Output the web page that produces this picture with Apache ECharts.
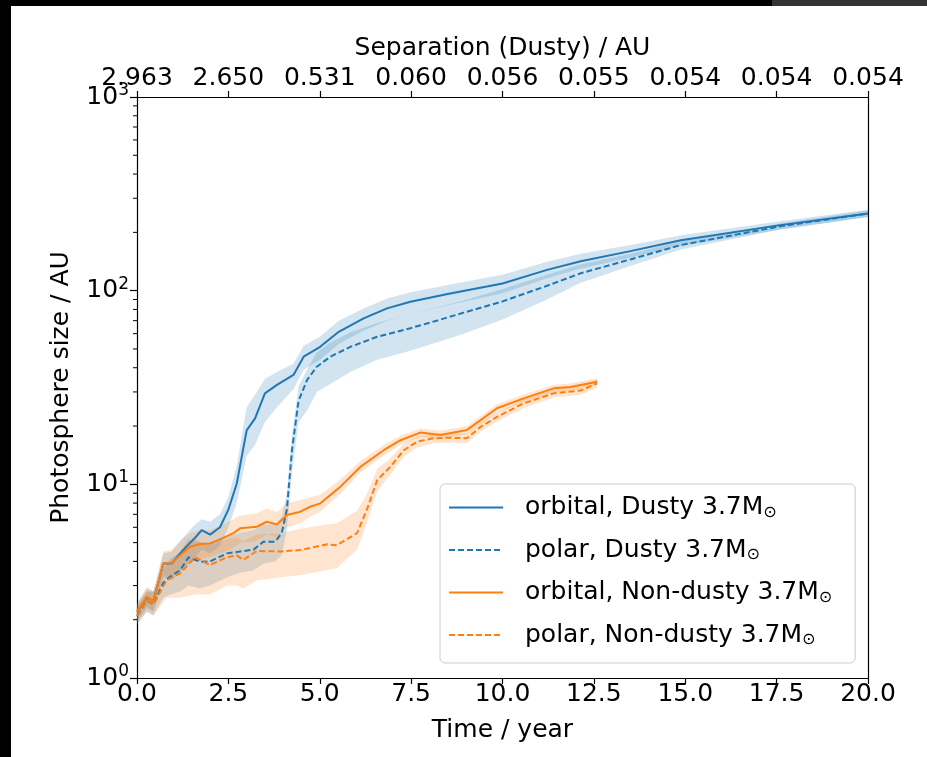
<!DOCTYPE html>
<html><head><meta charset="utf-8">
<script src="https://cdn.jsdelivr.net/npm/echarts@6/dist/echarts.min.js"></script>
<style>html,body{margin:0;padding:0;background:#fff}#c{width:927px;height:757px}</style>
</head><body><div id="c"></div>
<script>
// ---- data ----
const sepLabels = ['2.963','2.650','0.531','0.060','0.056','0.055','0.054','0.054','0.054'];
const minorTickValues = [2,3,4,5,6,7,8,9,20,30,40,50,60,70,80,90,200,300,400,500,600,700,800,900];
const seriesNames = ['orbital, Dusty 3.7M','polar, Dusty 3.7M','orbital, Non-dusty 3.7M','polar, Non-dusty 3.7M'];

const tOrbDusty = [0,0.27,0.45,0.72,0.95,1.18,1.41,1.59,1.77,2.0,2.27,2.5,2.73,3.0,3.23,3.5,3.83,4.28,4.56,5.01,5.52,6.2,6.84,7.48,8.5,10,11.22,12.14,13.5,14.88,17.6,20];
const vOrbDusty = [2.2,2.6,2.5,3.9,3.9,4.4,4.9,5.3,5.8,5.5,6.0,7.4,10.1,19,21.9,29.5,32.6,36.7,45.6,51.3,61.3,71.9,81,87.7,96,109,128,142,160,182,218,250];
const loOrbDusty = [1.95,2.3,2.2,3.3,3.2,3.5,3.9,4.2,4.6,4.4,4.8,6.0,8.0,14,16,21,25,31,39,44,53,62,70,76,84,97,116,130,148,170,207,240];
const hiOrbDusty = [2.45,2.9,2.8,4.4,4.5,5.1,5.7,6.2,6.6,6.4,7.0,8.6,12.5,25,29,35,38,42,52,58,70,81,91,98,107,121,141,155,172,193,228,262];

const tPolDusty = [0,0.27,0.45,0.72,0.9,1.18,1.41,1.73,2.0,2.46,2.82,3.19,3.46,3.78,3.96,4.1,4.24,4.42,4.65,4.92,5.29,5.84,6.57,7.48,8.2,8.94,10,11.22,12.14,13.5,14.88,17.6,20];
const vPolDusty = [2.1,2.5,2.4,3.1,3.33,3.6,4.2,3.98,4.0,4.4,4.5,4.6,5.06,5.06,5.6,7.4,15,27,34.5,40.5,45.6,51.3,57.8,64,70,77,88,106,123,145,172,215,250];
const loPolDusty = [1.9,2.2,2.1,2.6,2.7,2.8,3.0,2.9,3.0,3.3,3.5,3.6,3.9,4.0,4.3,5.8,11.5,21,24,30,33,38,44,49,54,60,71,90,110,134,163,207,240];
const hiPolDusty = [2.35,2.8,2.8,3.7,4.1,4.5,5.2,5.0,5.0,5.4,5.6,5.8,6.2,6.2,6.8,9.0,18,32,39,48,54,61,68,76,82,89,102,121,137,155,180,222,259];

const tOrbNon = [0,0.27,0.45,0.72,0.95,1.18,1.45,1.73,2.0,2.27,2.64,2.82,3.28,3.55,3.83,4.1,4.47,4.74,5.01,5.56,6.11,6.75,7.21,7.75,8.3,9.03,9.85,10.58,11.4,11.86,12.59];
const vOrbNon = [2.2,2.63,2.48,3.91,3.91,4.3,4.76,4.92,4.95,5.2,5.6,5.93,6.04,6.41,6.2,6.95,7.22,7.66,7.97,9.7,12.3,15,16.9,18.5,18,19.1,24.7,27.8,31.3,31.8,33.9];
const loOrbNon = [2.0,2.35,2.2,3.4,3.3,3.6,4.0,4.1,4.2,4.4,4.7,5.0,5.1,5.5,5.3,6.0,6.3,6.8,7.2,8.9,11.5,14.1,16.0,17.6,17.1,18.2,23.5,26.5,29.9,30.4,32.5];
const hiOrbNon = [2.4,2.95,2.8,4.5,4.6,5.1,5.6,5.8,5.8,6.1,6.6,6.9,7.1,7.5,7.2,8.0,8.3,8.6,8.8,10.6,13.2,16,17.8,19.4,18.9,20.0,25.9,29.1,32.7,33.2,35.3];

const tPolNon = [0,0.27,0.45,0.81,1.18,1.59,2.0,2.46,2.73,2.91,3.28,3.92,4.47,5.2,5.47,6.02,6.29,6.57,6.93,7.3,7.66,8.12,8.48,9.03,9.4,9.85,10.58,11.4,12.14,12.59];
const vPolNon = [2.1,2.5,2.4,3.2,3.47,4.2,3.83,4.2,4.3,4.07,4.53,4.5,4.58,4.9,4.85,5.6,7.4,10.5,12.3,15,16.6,17.3,17.4,17.3,19.8,22.3,26.2,29.5,30.5,33.2];
const loPolNon = [1.9,2.2,2.1,2.6,2.6,2.7,2.7,3.0,3.0,2.9,3.2,3.3,3.4,3.6,3.7,4.6,6.3,9.2,11.2,13.9,15.5,16.3,16.4,16.3,18.7,21.1,24.8,28.0,29.0,31.6];
const hiPolNon = [2.35,2.8,2.75,3.9,4.4,5.2,4.8,5.2,5.3,5.1,5.5,5.6,5.9,6.2,6.3,7.3,8.9,12.0,13.6,16.2,17.7,18.3,18.4,18.3,20.9,23.5,27.6,31.0,32.0,34.8];

// ---- chart ----
const BLUE = '#1f77b4', ORANGE = '#ff7f0e';
const FONT = 'DejaVu Sans';
const zip2 = (t, v) => t.map((x, i) => [x, v[i]]);
const zip3 = (t, a, b) => t.map((x, i) => [x, a[i], b[i]]);

function bandSeries(t, lo, hi, color) {
  return {
    type: 'custom', xAxisIndex: 0, yAxisIndex: 0, z: 1, silent: true,
    data: zip3(t, lo, hi),
    encode: {x: 0, y: [1, 2]},
    renderItem: function (params, api) {
      if (params.dataIndex !== 0) return null;
      const upper = t.map((x, i) => api.coord([x, hi[i]]));
      const lower = t.map((x, i) => api.coord([x, lo[i]])).reverse();
      return {type: 'polygon', shape: {points: upper.concat(lower)},
        style: {fill: color, opacity: 0.2, stroke: null}};
    }
  };
}
function lineSeries(name, t, v, color, dashed) {
  return {
    name: name, type: 'line', xAxisIndex: 0, yAxisIndex: 0, z: 3,
    data: zip2(t, v), symbol: 'none', showSymbol: false, smooth: false,
    lineStyle: {color: color, width: 2, type: dashed ? [6, 3] : 'solid'},
    itemStyle: {color: color}
  };
}

const axisLineStyle = {color: '#000', width: 1.2};
const option = {
  animation: false,
  backgroundColor: '#fff',
  grid: {left: 137, right: 59, top: 97, bottom: 79, containLabel: false},
  xAxis: [
    {type: 'value', position: 'bottom', min: 0, max: 20, interval: 2.5,
     axisLine: {show: true, lineStyle: axisLineStyle, onZero: false},
     axisTick: {show: true, inside: false, length: 6, lineStyle: axisLineStyle},
     axisLabel: {fontFamily: FONT, fontSize: 25, color: '#000', margin: 4,
                 formatter: v => v.toFixed(1)},
     splitLine: {show: false},
     name: 'Time / year', nameLocation: 'middle', nameGap: 40,
     nameTextStyle: {fontFamily: FONT, fontSize: 25, color: '#000'}},
    {type: 'value', position: 'top', min: 0, max: 20, interval: 2.5,
     axisLine: {show: true, lineStyle: axisLineStyle, onZero: false},
     axisTick: {show: true, inside: false, length: 6, lineStyle: axisLineStyle},
     axisLabel: {fontFamily: FONT, fontSize: 25, color: '#000', margin: 6,
                 formatter: v => sepLabels[Math.round(v / 2.5)]},
     splitLine: {show: false},
     name: 'Separation (Dusty) / AU', nameLocation: 'middle', nameGap: 36,
     nameTextStyle: {fontFamily: FONT, fontSize: 25, color: '#000'}}
  ],
  yAxis: [
    {type: 'log', logBase: 10, min: 1, max: 1000, position: 'left',
     axisLine: {show: true, lineStyle: axisLineStyle, onZero: false},
     axisTick: {show: true, inside: false, length: 7, lineStyle: axisLineStyle},
     minorTick: {show: false},
     axisLabel: {color: '#000', margin: 8,
       formatter: v => '{b|10}{s|' + Math.round(Math.log10(v)) + '}',
       rich: {b: {fontFamily: FONT, fontSize: 25, lineHeight: 30, color: '#000'},
              s: {fontFamily: FONT, fontSize: 17, lineHeight: 20, verticalAlign: 'top', color: '#000'}}},
     splitLine: {show: false},
     name: 'Photosphere size / AU', nameLocation: 'middle', nameGap: 63, nameRotate: 90,
     nameTextStyle: {fontFamily: FONT, fontSize: 25, color: '#000'}},
    {type: 'log', logBase: 10, min: 1, max: 1000, position: 'right',
     axisLine: {show: true, lineStyle: axisLineStyle, onZero: false},
     axisTick: {show: false}, axisLabel: {show: false}, splitLine: {show: false}}
  ],
  legend: {
    data: seriesNames, orient: 'vertical', left: 440, top: 484,
    width: 415,
    itemWidth: 54, itemHeight: 20, itemGap: 17,
    padding: [11, 23, 15, 8],
    itemStyle: {opacity: 0},
    backgroundColor: 'rgba(255,255,255,0.85)', borderColor: '#cccccc', borderWidth: 1, borderRadius: 5,
    formatter: name => '{t|' + name + '}{s|\u2299}',
    textStyle: {color: '#000', rich: {
      t: {fontFamily: FONT, fontSize: 25, lineHeight: 26, padding: [0, 0, 0, 17], color: '#000'},
      s: {fontFamily: FONT, fontSize: 16, lineHeight: 14, verticalAlign: 'bottom', color: '#000'}}}
  },
  series: [
    bandSeries(tOrbDusty, loOrbDusty, hiOrbDusty, BLUE),
    bandSeries(tPolDusty, loPolDusty, hiPolDusty, BLUE),
    bandSeries(tOrbNon, loOrbNon, hiOrbNon, ORANGE),
    bandSeries(tPolNon, loPolNon, hiPolNon, ORANGE),
    lineSeries(seriesNames[0], tOrbDusty, vOrbDusty, BLUE, false),
    lineSeries(seriesNames[1], tPolDusty, vPolDusty, BLUE, true),
    lineSeries(seriesNames[2], tOrbNon, vOrbNon, ORANGE, false),
    lineSeries(seriesNames[3], tPolNon, vPolNon, ORANGE, true),
    {type: 'custom', xAxisIndex: 0, yAxisIndex: 0, z: 5, silent: true,
     data: minorTickValues.map(v => [0, v]),
     renderItem: function (params, api) {
       const p = api.coord([0, api.value(1)]);
       return {type: 'line', shape: {x1: p[0] - 4, y1: p[1], x2: p[0], y2: p[1]},
               style: {stroke: '#000', lineWidth: 1}};
     }}
  ],
  graphic: [
    {type: 'rect', shape: {x: 0, y: 0, width: 772, height: 6}, style: {fill: '#000'}, z: 100},
    {type: 'rect', shape: {x: 772, y: 0, width: 155, height: 6}, style: {fill: '#333'}, z: 100},
    {type: 'rect', shape: {x: 0, y: 0, width: 11, height: 757}, style: {fill: '#000'}, z: 100}
  ]
};
const chart = echarts.init(document.getElementById('c'), null, {renderer: 'canvas'});
chart.setOption(option);
</script></body></html>
